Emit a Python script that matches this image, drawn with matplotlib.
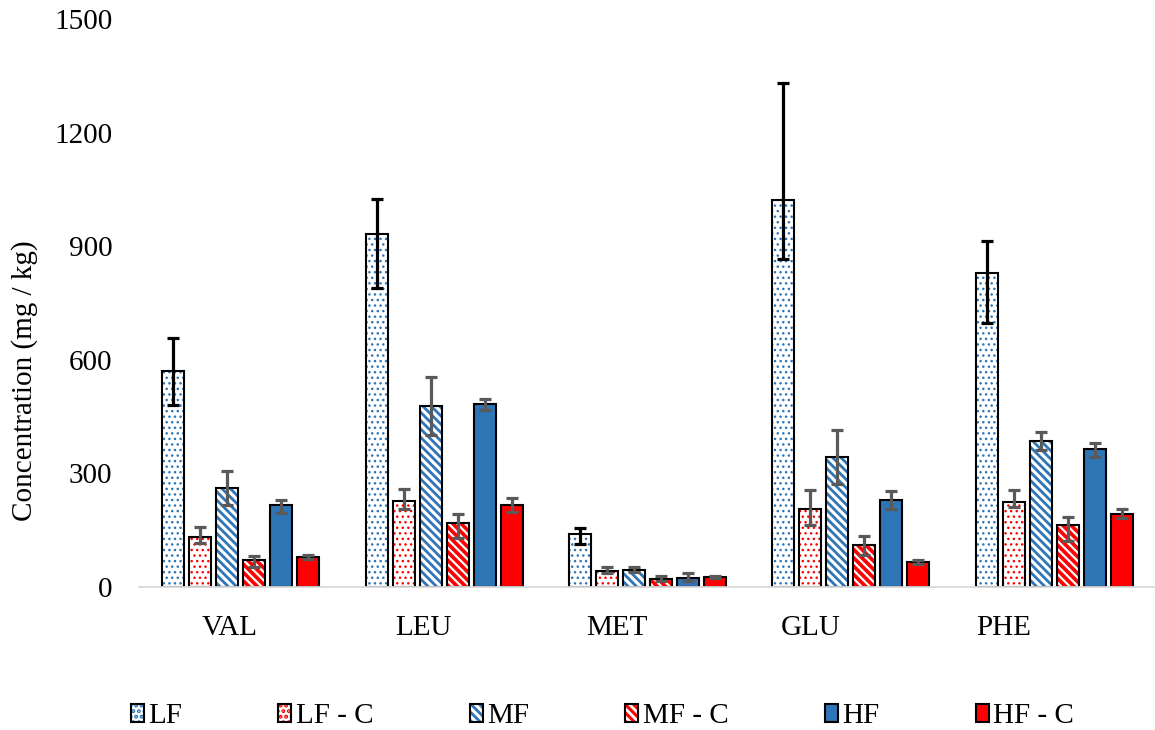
import numpy as np
import matplotlib
matplotlib.use("Agg")
import matplotlib.pyplot as plt
from matplotlib.colors import to_rgba

plt.rcParams['font.family'] = ['Liberation Serif', 'DejaVu Serif']
plt.rcParams['hatch.linewidth'] = 2.0

# ---- data (mg / kg) ----
categories = ["VAL", "LEU", "MET", "GLU", "PHE"]
series = ["LF", "LF - C", "MF", "MF - C", "HF", "HF - C"]

lf = [571, 933, 140, 1022, 829]
lf_c = [131, 226, 43, 205, 224]
mf = [261, 477, 46, 344, 385]
mf_c = [71, 170, 21, 112, 163]
hf = [217, 482, 25, 230, 365]
hf_c = [80, 216, 27, 66, 193]

# error bars: distance below / above the bar top
lf_lo = [90, 143, 26, 156, 133]
lf_hi = [87, 91, 15, 308, 86]
lf_c_lo = [16, 19, 6, 40, 14]
lf_c_hi = [28, 34, 11, 51, 31]
mf_lo = [44, 76, 6, 72, 24]
mf_hi = [45, 78, 6, 71, 24]
mf_c_lo = [17, 41, 4, 27, 42]
mf_c_hi = [12, 24, 7, 22, 22]
hf_lo = [21, 15, 10, 23, 22]
hf_hi = [13, 15, 12, 23, 14]
hf_c_lo = [7, 18, 3, 5, 10]
hf_c_hi = [5, 19, 3, 5, 12]

values = [lf, lf_c, mf, mf_c, hf, hf_c]
err_lo = [lf_lo, lf_c_lo, mf_lo, mf_c_lo, hf_lo, hf_c_lo]
err_hi = [lf_hi, lf_c_hi, mf_hi, mf_c_hi, hf_hi, hf_c_hi]

# ---- styles ----
BLUE = "#2E75B6"
RED = "#FF0000"
faces = ["white", "white", "white", RED, BLUE, RED]
hatch_cols = [BLUE, RED, BLUE, "white", None, None]
hatches = ["...", "...", "\\\\\\\\", "\\\\\\\\", None, None]
hatch_lw = [1.0, 1.0, 2.0, 1.6, 1.0, 1.0]
err_cols = ["black", "#595959", "#595959", "#595959", "#595959", "#595959"]

fig = plt.figure(figsize=(11.55, 7.3), dpi=100)
ax = fig.add_axes([0.1203, 0.1959, 0.8806, 0.7781])

x = np.arange(len(categories))
pitch = 0.1327
width = 0.108
n = len(series)

for j in range(n):
    pos = x + (j - (n - 1) / 2) * pitch
    bars = ax.bar(pos, values[j], width=width, color=faces[j], edgecolor="black",
                  linewidth=1.5, hatch=hatches[j], label=series[j], zorder=2)
    for p in bars:
        if hatch_cols[j] is not None:
            p._hatch_color = to_rgba(hatch_cols[j])
        if hasattr(p, "set_hatch_linewidth"):
            p.set_hatch_linewidth(hatch_lw[j])
    ax.errorbar(pos, values[j], yerr=[err_lo[j], err_hi[j]], fmt="none",
                ecolor=err_cols[j], elinewidth=2.3, capsize=4.5, capthick=2.3, zorder=3)

ax.set_xlim(-0.5, len(categories) - 0.5)
ax.set_ylim(0, 1500)
ax.set_yticks(np.arange(0, 1501, 300))

# category labels sit slightly left of the bar groups in the reference
ax.set_xticks(x * 0.951 - 0.052)
ax.set_xticklabels(categories)
ax.tick_params(axis="both", length=0, labelsize=21)
ax.tick_params(axis="y", pad=19)
ax.tick_params(axis="x", pad=20)

for s in ["top", "right", "left"]:
    ax.spines[s].set_visible(False)
ax.spines["bottom"].set_color("#D9D9D9")
ax.spines["bottom"].set_linewidth(1.3)

ax.set_ylabel("Concentration (mg / kg)", fontsize=21)
ax.yaxis.set_label_coords(-0.099, 0.363)

fig.legend(loc="center left", bbox_to_anchor=(0.113, 0.019), ncol=6, frameon=False,
           fontsize=21, handlelength=0.45, handleheight=0.55, handletextpad=0.15,
           columnspacing=3.3, borderpad=0, borderaxespad=0)

fig.savefig("out.png", dpi=100)
